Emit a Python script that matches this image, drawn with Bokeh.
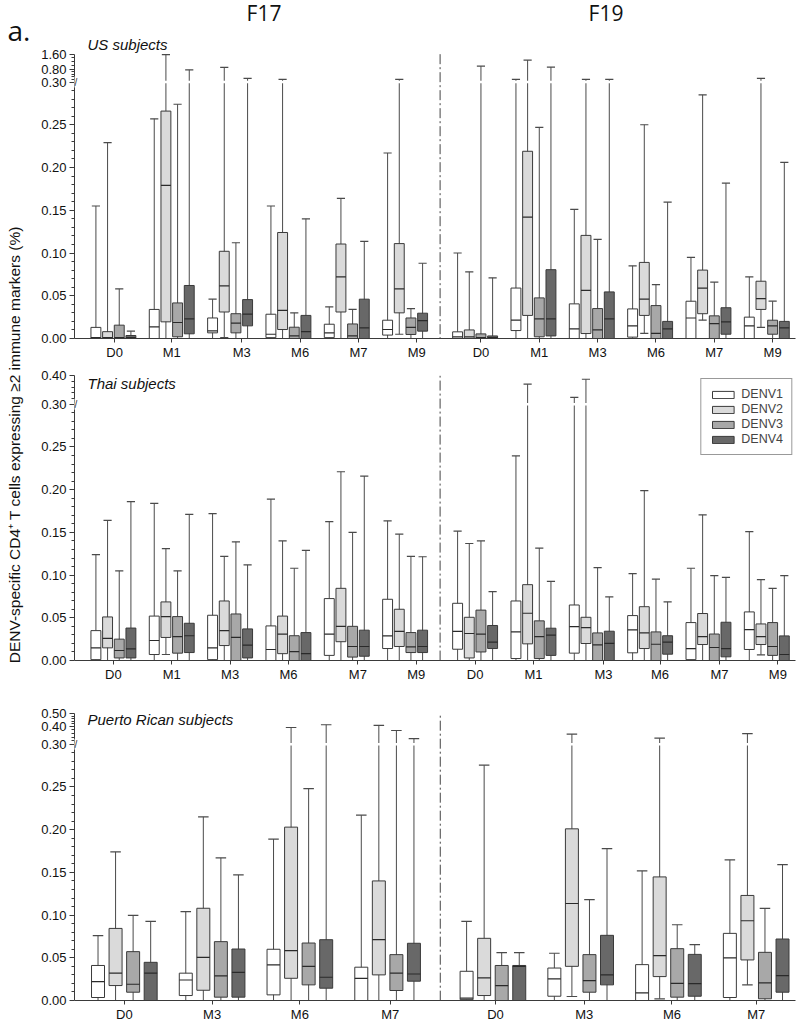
import numpy as np
from bokeh.plotting import figure
from bokeh.models import (Range1d, FixedTicker, Label, Legend, LegendItem, Arrow,
                          BoxAnnotation, ColumnDataSource)
from bokeh.layouts import row, column
from bokeh.embed import file_html
from bokeh.resources import INLINE

SEROTYPES = ["DENV1", "DENV2", "DENV3", "DENV4"]
FILLS = ["#ffffff", "#dadada", "#a8a8a8", "#686868"]

# each tuple: (low whisker, Q1, median, Q3, high whisker), one per time point
US_TIMEPOINTS = ["D0", "M1", "M3", "M6", "M7", "M9"]
US_F17_DENV1 = [(0, 0, 0.001, 0.013, 0.155), (0, 0, 0.0136, 0.034, 0.257), (0, 0.0066, 0.009, 0.024, 0.046),
                (0, 0.001, 0.005, 0.0284, 0.155), (0, 0.001, 0.0066, 0.0167, 0.037), (0, 0.004, 0.0105, 0.0214, 0.217)]
US_F17_DENV2 = [(0, 0, 0.001, 0.008, 0.229), (0, 0.0195, 0.179, 0.266, 1.58), (0.001, 0.031, 0.0615, 0.102, 0.89),
                (0, 0.0105, 0.033, 0.124, 0.40), (0, 0.031, 0.072, 0.1105, 0.164), (0.005, 0.030, 0.058, 0.111, 0.40)]
US_F17_DENV3 = [(0, 0, 0.001, 0.0156, 0.058), (0, 0.002, 0.0187, 0.0416, 0.274), (0, 0.0066, 0.018, 0.029, 0.112),
                (0, 0, 0.003, 0.0132, 0.030), (0, 0, 0.003, 0.017, 0.034), (0, 0.0047, 0.013, 0.024, 0.035)]
US_F17_DENV4 = [(0, 0, 0.001, 0.0035, 0.0086), (0, 0.0055, 0.023, 0.062, 0.77), (0, 0.0148, 0.0284, 0.0455, 0.44),
                (0, 0, 0.008, 0.027, 0.140), (0, 0, 0.0125, 0.046, 0.1135), (0, 0.0086, 0.021, 0.0296, 0.088)]
US_F19_DENV1 = [(0, 0, 0.002, 0.0078, 0.100), (0, 0.0093, 0.0214, 0.059, 0.40), (0, 0, 0.0113, 0.0405, 0.151),
                (0, 0.0016, 0.0148, 0.0346, 0.085), (0, 0, 0.024, 0.0436, 0.095), (0, 0, 0.0148, 0.025, 0.072)]
US_F19_DENV2 = [(0, 0, 0.002, 0.010, 0.078), (0, 0.027, 0.142, 0.219, 1.28), (0, 0.0058, 0.0564, 0.1206, 0.40),
                (0.006, 0.027, 0.046, 0.089, 0.25), (0.0214, 0.029, 0.059, 0.080, 0.285), (0.013, 0.034, 0.0467, 0.067, 0.44)]
US_F19_DENV3 = [(0, 0, 0.001, 0.0054, 0.96), (0, 0.002, 0.023, 0.0475, 0.247), (0, 0, 0.010, 0.035, 0.116),
                (0, 0, 0.006, 0.0385, 0.063), (0, 0, 0.0175, 0.0265, 0.066), (0, 0.005, 0.0148, 0.0214, 0.0436)]
US_F19_DENV4 = [(0, 0, 0.001, 0.003, 0.071), (0, 0.003, 0.023, 0.0805, 0.91), (0, 0, 0.023, 0.0545, 0.40),
                (0, 0, 0.0113, 0.020, 0.1595), (0, 0.005, 0.0195, 0.036, 0.1817), (0, 0, 0.0125, 0.020, 0.206)]

THAI_TIMEPOINTS = ["D0", "M1", "M3", "M6", "M7", "M9"]
THAI_F17_DENV1 = [(0, 0.001, 0.0148, 0.035, 0.124), (0, 0.007, 0.0234, 0.052, 0.184), (0, 0.001, 0.0148, 0.053, 0.172),
                  (0, 0, 0.0129, 0.0405, 0.189), (0, 0.006, 0.031, 0.0725, 0.1625), (0, 0.014, 0.0288, 0.0717, 0.1636)]
THAI_F17_DENV2 = [(0, 0.0148, 0.026, 0.051, 0.164), (0.007, 0.027, 0.0514, 0.0686, 0.131), (0, 0.0175, 0.035, 0.0697, 0.122),
                  (0, 0.008, 0.031, 0.052, 0.140), (0, 0.022, 0.040, 0.0845, 0.221), (0, 0.0164, 0.034, 0.060, 0.148)]
THAI_F17_DENV3 = [(0, 0.003, 0.0117, 0.025, 0.105), (0, 0.0086, 0.028, 0.0514, 0.105), (0, 0, 0.027, 0.0545, 0.139),
                  (0, 0, 0.0105, 0.029, 0.108), (0, 0.004, 0.0164, 0.040, 0.150), (0, 0.0093, 0.016, 0.0327, 0.122)]
THAI_F17_DENV4 = [(0, 0.003, 0.0136, 0.038, 0.186), (0, 0.0093, 0.029, 0.0436, 0.171), (0, 0.003, 0.018, 0.037, 0.112),
                  (0, 0, 0.008, 0.0327, 0.129), (0, 0.005, 0.0164, 0.0355, 0.216), (0, 0.0093, 0.0164, 0.0355, 0.1215)]
THAI_F19_DENV1 = [(0, 0.0132, 0.034, 0.067, 0.1515), (0, 0.0023, 0.0335, 0.0697, 0.2395), (0, 0.0086, 0.0397, 0.065, 0.324),
                  (0, 0.009, 0.0358, 0.0526, 0.1017), (0, 0.001, 0.014, 0.0444, 0.108), (0, 0.0129, 0.0362, 0.0569, 0.1508)]
THAI_F19_DENV2 = [(0, 0.003, 0.0316, 0.0506, 0.137), (0, 0.0195, 0.0553, 0.0888, 0.37), (0, 0.0199, 0.0386, 0.0506, 0.387),
                  (0, 0.014, 0.0323, 0.063, 0.199), (0, 0.0187, 0.028, 0.055, 0.1706), (0.0066, 0.0187, 0.028, 0.0428, 0.0947)]
THAI_F19_DENV3 = [(0, 0.010, 0.031, 0.059, 0.140), (0, 0.0023, 0.028, 0.0464, 0.1317), (0, 0, 0.0183, 0.0323, 0.1087),
                  (0, 0, 0.019, 0.0335, 0.0954), (0, 0, 0.0152, 0.031, 0.0993), (0, 0.006, 0.0164, 0.0444, 0.0845)]
THAI_F19_DENV4 = [(0, 0.014, 0.0214, 0.041, 0.0806), (0, 0.006, 0.0296, 0.0378, 0.0927), (0, 0, 0.020, 0.0343, 0.0744),
                  (0, 0.0074, 0.0214, 0.029, 0.0686), (0, 0.0043, 0.014, 0.0448, 0.0974), (0, 0, 0.007, 0.0288, 0.0993)]

PR_TIMEPOINTS = ["D0", "M3", "M6", "M7"]
PR_F17_DENV1 = [(0, 0.0035, 0.022, 0.041, 0.076), (0, 0.0058, 0.024, 0.032, 0.104),
                (0, 0.0066, 0.0416, 0.060, 0.189), (0, 0, 0.026, 0.039, 0.217)]
PR_F17_DENV2 = [(0, 0.0175, 0.032, 0.0844, 0.174), (0, 0.012, 0.0506, 0.108, 0.215),
                (0, 0.026, 0.0584, 0.203, 0.394), (0, 0.030, 0.0712, 0.140, 0.408)]
PR_F17_DENV3 = [(0, 0.0097, 0.019, 0.0572, 0.0996), (0, 0.0039, 0.0288, 0.0689, 0.167),
                (0, 0.0183, 0.040, 0.0673, 0.248), (0, 0.0117, 0.032, 0.0537, 0.377)]
PR_F17_DENV4 = [(0, 0, 0.032, 0.0447, 0.0926), (0, 0.0039, 0.033, 0.0603, 0.147),
                (0, 0.0144, 0.0272, 0.0712, 0.413), (0, 0.0226, 0.031, 0.067, 0.332)]
PR_F19_DENV1 = [(0, 0.001, 0.0027, 0.0342, 0.0926), (0, 0.005, 0.0253, 0.038, 0.0553),
                (0, 0, 0.009, 0.042, 0.1517), (0, 0.0035, 0.0498, 0.0786, 0.1646)]
PR_F19_DENV2 = [(0, 0.0058, 0.0265, 0.0728, 0.2755), (0.0047, 0.040, 0.1136, 0.201, 0.357),
                (0.002, 0.028, 0.0525, 0.1447, 0.334), (0.0183, 0.0475, 0.0934, 0.123, 0.36)]
PR_F19_DENV3 = [(0, 0, 0.0175, 0.041, 0.056), (0, 0.0097, 0.0233, 0.0537, 0.118),
                (0, 0.0039, 0.020, 0.0607, 0.0887), (0, 0.002, 0.0206, 0.0564, 0.1078)]
PR_F19_DENV4 = [(0, 0, 0.040, 0.041, 0.056), (0, 0.0183, 0.030, 0.0763, 0.1778),
                (0, 0.005, 0.0198, 0.054, 0.0654), (0, 0.0097, 0.0292, 0.072, 0.159)]

US_YTICKS = [0.0, 0.05, 0.10, 0.15, 0.20, 0.25, 0.30, 0.80, 1.60]
THAI_YTICKS = [0.0, 0.05, 0.10, 0.15, 0.20, 0.25, 0.30, 0.40]
PR_YTICKS = [0.0, 0.05, 0.10, 0.15, 0.20, 0.25, 0.30, 0.40, 0.50]

FONT = "Liberation Sans"
LINE = "#3a3a3a"
WHISK = "#4a4a4a"
PPU_Y = 860.0      # pixels per display unit (linear part of the broken axis)
PANEL_W = 762
LEFT_B = 34
RIGHT_B = 5
FRAME_W = PANEL_W - LEFT_B - RIGHT_B


def make_panel(tps, f17_sets, f19_sets, knots, yticks, yminor, subtitle, sub_px,
               nudges, box_w, cap_w, x_start, ppu_x, height, top_b, bot_b, div_from_top):
    n = len(tps)
    xp = [0.0, 0.30] + [k[0] for k in knots]
    fp = [0.0, 0.30] + [k[1] for k in knots]

    def tf(v):
        return float(np.interp(v, xp, fp))

    axis_top = fp[-1]
    frame_h = height - top_b - bot_b
    y_end = max(frame_h / PPU_Y, axis_top)
    ppu_y = frame_h / y_end
    x_end = x_start + FRAME_W / ppu_x
    right0 = n + 0.2
    divider = (n - 1 + right0) / 2.0
    centers = [float(i) for i in range(n)] + [right0 + i for i in range(n)]

    p = figure(width=PANEL_W, height=height, x_range=Range1d(x_start, x_end), y_range=Range1d(0, y_end),
               output_backend="svg", toolbar_location=None, min_border_left=LEFT_B, min_border_right=RIGHT_B,
               min_border_top=top_b, min_border_bottom=bot_b, outline_line_color=None,
               background_fill_color="white", border_fill_color="white")
    p.xgrid.visible = False
    p.ygrid.visible = False

    box_renderers = []
    for k in range(4):
        stats = list(f17_sets[k]) + list(f19_sets[k])
        xs = [c + (k - 1.5) * 0.2 for c in centers]
        src = ColumnDataSource(dict(
            x=xs,
            lo=[tf(t[0]) for t in stats], q1=[tf(t[1]) for t in stats], med=[tf(t[2]) for t in stats],
            q3=[tf(t[3]) for t in stats], hi=[tf(t[4]) for t in stats],
            bx0=[x - box_w / 2 for x in xs], bx1=[x + box_w / 2 for x in xs],
            cx0=[x - cap_w / 2 for x in xs], cx1=[x + cap_w / 2 for x in xs]))
        p.segment(x0="x", y0="lo", x1="x", y1="hi", source=src, line_color=WHISK, line_width=1)
        p.segment(x0="cx0", y0="hi", x1="cx1", y1="hi", source=src, line_color=WHISK, line_width=1.2)
        p.segment(x0="cx0", y0="lo", x1="cx1", y1="lo", source=src, line_color=WHISK, line_width=1.2)
        r = p.vbar(x="x", width=box_w, bottom="q1", top="q3", source=src,
                   fill_color=FILLS[k], line_color=LINE, line_width=1)
        p.segment(x0="bx0", y0="med", x1="bx1", y1="med", source=src, line_color="#2a2a2a", line_width=1.2)
        box_renderers.append(r)

    # axis break gap (just at the 0.30 level)
    p.add_layout(BoxAnnotation(bottom=0.30 - 1.2 / ppu_y, top=0.30 + 1.2 / ppu_y,
                               fill_color="white", fill_alpha=1.0, line_alpha=0))
    # dash-dot divider between F17 and F19
    p.add_layout(Arrow(end=None, x_start=divider, x_end=divider,
                       y_start=(y_end + top_b / ppu_y) if div_from_top else axis_top,
                       y_end=-bot_b / ppu_y, line_dash="10 3 2 3", line_color="#444", line_width=1))
    # break mark on the y axis
    p.add_layout(Label(x=x_start, y=0.30, text="//", text_align="center",
                       text_baseline="middle", text_font=FONT, text_font_size="10px", text_color="#333",
                       background_fill_color="white", background_fill_alpha=1.0))
    # panel subtitle
    p.add_layout(Label(x=x_start + 13.0 / ppu_x, y=sub_px / ppu_y, text=subtitle,
                       text_font=FONT, text_font_style="italic", text_font_size="15px",
                       text_baseline="middle", text_color="#111"))

    yt = [tf(v) for v in yticks]
    p.yaxis.ticker = FixedTicker(ticks=yt, minor_ticks=[tf(v) for v in yminor])
    p.yaxis.major_label_overrides = {t: f"{v:.2f}" for t, v in zip(yt, yticks)}
    p.yaxis.bounds = (0, axis_top)
    xt = [round(c + d, 4) for c, d in zip(centers, nudges)]
    p.xaxis.ticker = FixedTicker(ticks=xt, minor_ticks=[])
    p.xaxis.major_label_overrides = {t: lab for t, lab in zip(xt, list(tps) + list(tps))}

    for ax in (p.xaxis[0], p.yaxis[0]):
        ax.axis_line_color = LINE
        ax.major_tick_line_color = LINE
        ax.minor_tick_line_color = LINE
        ax.major_tick_in = 0
        ax.minor_tick_in = 0
        ax.major_label_text_font = FONT
        ax.major_label_text_font_size = "13px"
        ax.major_label_text_color = "#111"
    p.xaxis.major_tick_out = 4
    p.xaxis.minor_tick_line_color = None
    p.xaxis.major_label_standoff = 2
    p.yaxis.major_tick_out = 5
    p.yaxis.minor_tick_out = 3
    p.yaxis.major_label_standoff = 3
    return p, box_renderers, ppu_y


minor_low = [i / 100 for i in range(1, 30) if i % 5 != 0]

X0_6 = -0.667   # left frame edge, in group units (6 time points per vaccine)
X0_4 = -0.568   # left frame edge, in group units (4 time points per vaccine)

p1, _, ppu1 = make_panel(
    US_TIMEPOINTS, [US_F17_DENV1, US_F17_DENV2, US_F17_DENV3, US_F17_DENV4],
    [US_F19_DENV1, US_F19_DENV2, US_F19_DENV3, US_F19_DENV4],
    [(0.80, 0.30 + 13 / 860), (1.60, 0.30 + 28 / 860)], US_YTICKS,
    minor_low + [0.40, 0.50, 0.60, 0.70, 1.00, 1.20, 1.40], "US subjects", 296,
    [0.02, 0, 0.2, 0.2, 0.2, 0.2, 0.1, 0.1, 0.1, 0.1, 0.1, 0.1],
    0.17, 0.14, X0_6, 58.5, 362, 0, 22, False)

p1.add_layout(Label(x=X0_6 + (262 - 72) / 58.5, y=(340 - 13) / ppu1, text="F17", text_align="center",
                    text_baseline="middle", text_font="Open Sans", text_font_size="21px", text_color="#111"))
p1.add_layout(Label(x=X0_6 + (605 - 72) / 58.5, y=(340 - 13) / ppu1, text="F19", text_align="center",
                    text_baseline="middle", text_font="Open Sans", text_font_size="21px", text_color="#111"))

p2, rend2, _ = make_panel(
    THAI_TIMEPOINTS, [THAI_F17_DENV1, THAI_F17_DENV2, THAI_F17_DENV3, THAI_F17_DENV4],
    [THAI_F19_DENV1, THAI_F19_DENV2, THAI_F19_DENV3, THAI_F19_DENV4],
    [(0.40, 0.30 + 29 / 860)], THAI_YTICKS,
    minor_low + [0.32, 0.34, 0.36, 0.38], "Thai subjects", 279,
    [0, 0, 0, 0, 0.19, 0.19, 0, 0, 0.2, 0.17, 0.19, 0.19],
    0.17, 0.14, X0_6, 58.5, 322, 13, 22, True)

legend = Legend(items=[LegendItem(label=s, renderers=[r]) for s, r in zip(SEROTYPES, rend2)],
                location="top_right", label_text_font=FONT, label_text_font_size="12.5px",
                glyph_width=27, glyph_height=9, label_height=13, label_standoff=5, spacing=1,
                padding=8, margin=3, border_line_color="#333", border_line_width=1,
                background_fill_color="white", background_fill_alpha=1.0)
p2.add_layout(legend)

p3, _, _ = make_panel(
    PR_TIMEPOINTS, [PR_F17_DENV1, PR_F17_DENV2, PR_F17_DENV3, PR_F17_DENV4],
    [PR_F19_DENV1, PR_F19_DENV2, PR_F19_DENV3, PR_F19_DENV4],
    [(0.40, 0.30 + 18 / 860), (0.50, 0.30 + 31 / 860)], PR_YTICKS,
    minor_low + [0.32, 0.34, 0.36, 0.38, 0.42, 0.44, 0.46, 0.48], "Puerto Rican subjects", 283,
    [0, 0, 0, 0.03, 0.03, 0.04, 0.04, 0],
    0.148, 0.12, X0_4, 88.0, 340, 29, 22, True)

# left strip with panel letter and shared y-axis title
TOTAL_H = 362 + 322 + 340
pl = figure(width=800 - PANEL_W, height=TOTAL_H, x_range=Range1d(0, 800 - PANEL_W), y_range=Range1d(0, TOTAL_H),
            x_axis_type=None, y_axis_type=None, output_backend="svg", toolbar_location=None,
            min_border_left=0, min_border_right=0, min_border_top=0, min_border_bottom=0,
            outline_line_color=None, background_fill_color="white", border_fill_color="white")
pl.grid.visible = False
pl.add_layout(Label(x=7, y=TOTAL_H - 29, text="a.", text_font="Open Sans", text_font_size="28px",
                    text_baseline="alphabetic", text_align="left", text_color="#111"))
pl.add_layout(Label(x=14, y=TOTAL_H - 442, text="DENV-specific CD4\u207a T cells expressing \u22652  immune markers (%)",
                    angle=np.pi / 2, text_align="center", text_baseline="middle", text_font=FONT,
                    text_font_size="15.5px", text_color="#111"))

layout = row(pl, column(p1, p2, p3))
open("out.html", "w").write(file_html(layout, INLINE))
